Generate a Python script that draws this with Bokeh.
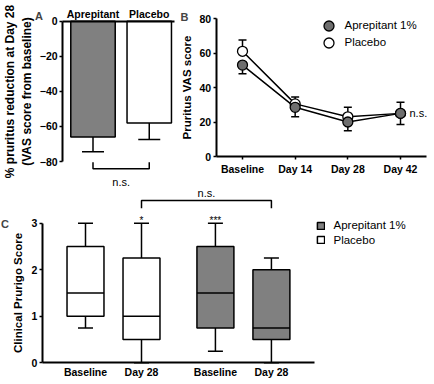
from bokeh.plotting import figure
from bokeh.models import (ColumnDataSource, Range1d, FixedTicker, LinearAxis,
                          SingleIntervalTicker, Legend, LegendItem, Label)
from bokeh.core.properties import value
from bokeh.embed import file_html
from bokeh.resources import INLINE

FONT = "Liberation Sans"
GREY = "#808080"
MGREY = "#6e6e6e"
W, H = 434, 384

# ---------------- data ----------------
# Panel A: % pruritus reduction at Day 28 (mean, SEM)
a_groups = ["Aprepitant", "Placebo"]
a_mean = [-66, -58]
a_sem = [8.5, 9.5]

# Panel B: pruritus VAS score over time (mean, SEM)
b_days = ["Baseline", "Day 14", "Day 28", "Day 42"]
b_aprep_mean = [53, 28.5, 20, 25]
b_aprep_sem = [5, 5.5, 5, 6.5]
b_placebo_mean = [61, 30.5, 23, 25]
b_placebo_sem = [6.5, 4, 5.5, 6.5]

# Panel C: clinical prurigo score (box plots)
c_groups = ["Placebo", "Aprepitant 1%"]
c_times = ["Baseline", "Day 28"]
c_low = [0.75, 0, 0.25, 0]
c_q1 = [1, 0.5, 0.75, 0.5]
c_median = [1.5, 1, 1.5, 0.75]
c_q3 = [2.5, 2.25, 2.5, 2]
c_high = [3, 3, 3, 2.25]
c_sig = ["", "*", "***", ""]


# ---------------- helpers: panel scales anchored on the canvas ----------------
def xr(v0, p0, v1, p1):
    s = (p1 - p0) / (v1 - v0)
    start = v0 - p0 / s
    return Range1d(start, start + W / s)


def yr(v0, p0, v1, p1):
    q0, q1 = H - p0, H - p1
    s = (q1 - q0) / (v1 - v0)
    start = v0 - q0 / s
    return Range1d(start, start + H / s)


p = figure(width=W, height=H, x_range=Range1d(0, 1), y_range=Range1d(0, 1),
           x_axis_type=None, y_axis_type=None, min_border=0, title=None,
           output_backend="svg", toolbar_location=None)
p.outline_line_color = None
p.extra_x_ranges = {"ax": xr(0.5, 92.5, 1.5, 148.75),
                    "bx": xr(0, 242, 3, 400),
                    "cx": xr(0, 85, 1, 141)}
p.extra_y_ranges = {"ay": yr(0, 20.7, -80, 161),
                    "by": yr(0, 156, 80, 18),
                    "cy": yr(0, 362.3, 3, 222.7)}

A = dict(x_range_name="ax", y_range_name="ay")
B = dict(x_range_name="bx", y_range_name="by")
C = dict(x_range_name="cx", y_range_name="cy")
LINE = dict(line_color="black", line_width=1.5)


def add_axis(side, rn, loc, bounds, ticker, label=None, overrides=None, tick_out=3,
             standoff=2, label_size="11.5px", label_standoff=5):
    ax = LinearAxis(fixed_location=loc, bounds=bounds, ticker=ticker, **rn)
    ax.axis_line_width = 2
    ax.axis_line_color = "black"
    ax.major_tick_line_width = 1.5
    ax.major_tick_line_color = "black" if tick_out > 0 else None
    ax.minor_tick_line_color = None
    ax.major_tick_in = 0
    ax.major_tick_out = tick_out
    ax.major_label_text_font = FONT
    ax.major_label_text_font_style = "bold"
    ax.major_label_text_font_size = "10.5px"
    ax.major_label_text_color = "black"
    ax.major_label_standoff = standoff
    if overrides:
        ax.major_label_overrides = overrides
    if label:
        ax.axis_label = label
        ax.axis_label_text_font = FONT
        ax.axis_label_text_font_style = "bold"
        ax.axis_label_text_font_size = label_size
        ax.axis_label_text_color = "black"
        ax.axis_label_standoff = label_standoff
    p.add_layout(ax, side)
    return ax


def letter(text, x, y):
    p.add_layout(Label(x=x, y=H - y, x_units="screen", y_units="screen", text=text,
                       text_font=FONT, text_font_style="bold", text_font_size="11px",
                       text_align="center", text_baseline="middle"))


def legend(renderer, label, x_left, y_bottom, gw, gh, standoff):
    p.add_layout(Legend(items=[LegendItem(label=label, renderers=[renderer])],
                        location=(x_left, H - y_bottom), glyph_width=gw, glyph_height=gh,
                        padding=0, margin=0, spacing=0, border_line_color=None,
                        background_fill_alpha=0, label_standoff=standoff, label_height=9,
                        label_text_font=FONT, label_text_font_size="11.5px",
                        label_text_color="black"))


def ns(x, y, rn, size="11px"):
    p.text(x=[x], y=[y], text=["n.s."], text_font=value(FONT), text_font_size=size,
           text_align="center", text_baseline="middle", text_color="black", **rn)


# ---------------- Panel A ----------------
a_pos = [i + 0.5 for i in range(len(a_groups))]
a_axis_x = -0.04
srcA = ColumnDataSource(dict(x=a_pos, mean=a_mean,
                             err=[m - s for m, s in zip(a_mean, a_sem)],
                             fill=[GREY, "white"]))
p.segment(x0="x", y0="mean", x1="x", y1="err", source=srcA, **LINE, **A)
p.scatter(x="x", y="err", source=srcA, marker="dash", size=22, **LINE, **A)
p.vbar(x="x", top=0, bottom="mean", width=0.79, source=srcA, fill_color="fill", **LINE, **A)
p.line(x=[a_pos[0], a_pos[0], a_pos[1], a_pos[1]], y=[-80.4, -84.2, -84.2, -80.4], **LINE, **A)
ns((a_pos[0] + a_pos[1]) / 2, -91.8, A)
add_axis("left", A, a_axis_x, (-80, 0), SingleIntervalTicker(interval=20, num_minor_ticks=0),
         label="% pruritus reduction at Day 28\n(VAS score from baseline)", label_size="12px",
         label_standoff=3)
add_axis("above", A, 0, (a_axis_x, a_pos[-1] + 0.44), FixedTicker(ticks=a_pos),
         overrides={x: g for x, g in zip(a_pos, a_groups)}, tick_out=0, standoff=1)
letter("A", 38.5, 15)

# ---------------- Panel B ----------------
b_pos = list(range(len(b_days)))
srcB = ColumnDataSource(dict(x=b_pos, am=b_aprep_mean, pm=b_placebo_mean,
                             alo=[m - s for m, s in zip(b_aprep_mean, b_aprep_sem)],
                             phi=[m + s for m, s in zip(b_placebo_mean, b_placebo_sem)]))
p.segment(x0="x", y0="pm", x1="x", y1="phi", source=srcB, **LINE, **B)
p.scatter(x="x", y="phi", source=srcB, marker="dash", size=8, **LINE, **B)
p.segment(x0="x", y0="am", x1="x", y1="alo", source=srcB, **LINE, **B)
p.scatter(x="x", y="alo", source=srcB, marker="dash", size=8, **LINE, **B)
p.line(x="x", y="pm", source=srcB, **LINE, **B)
p.line(x="x", y="am", source=srcB, **LINE, **B)
rP = p.scatter(x="x", y="pm", source=srcB, size=10, fill_color="white",
               line_color="black", line_width=1.3, **B)
rA = p.scatter(x="x", y="am", source=srcB, size=10, fill_color=MGREY,
               line_color="black", line_width=1.3, **B)
p.text(x=[b_pos[-1]], y=[b_aprep_mean[-1]], text=["n.s."], x_offset=9,
       text_font=value(FONT), text_font_size="11px", text_align="left",
       text_baseline="middle", text_color="black", **B)
add_axis("left", B, -0.5, (0, 80), SingleIntervalTicker(interval=20, num_minor_ticks=0),
         label="Pruritus VAS score", label_standoff=4)
add_axis("below", B, 0, (-0.5, b_pos[-1] + 0.5), FixedTicker(ticks=b_pos),
         overrides={x: d for x, d in zip(b_pos, b_days)}, tick_out=3, standoff=3)
legend(rA, "Aprepitant 1%", 315.5, 37.5, 25, 25, 4)
legend(rP, "Placebo", 315.5, 54.5, 25, 25, 4)
letter("B", 184, 16.5)

# ---------------- Panel C ----------------
gap = 0.32
box_w = 0.66
c_pos = [g * (len(c_times) + gap) + t for g in range(len(c_groups)) for t in range(len(c_times))]
c_labels = [t for g in c_groups for t in c_times]
fills = {"Placebo": "white", "Aprepitant 1%": GREY}
box_r = {}
for gi, grp in enumerate(c_groups):
    idx = [gi * len(c_times) + t for t in range(len(c_times))]
    src = ColumnDataSource(dict(
        x=[c_pos[i] for i in idx],
        xl=[c_pos[i] - box_w / 2 for i in idx],
        xr=[c_pos[i] + box_w / 2 for i in idx],
        lo=[c_low[i] for i in idx], q1=[c_q1[i] for i in idx],
        med=[c_median[i] for i in idx], q3=[c_q3[i] for i in idx],
        hi=[c_high[i] for i in idx]))
    p.segment(x0="x", y0="lo", x1="x", y1="q1", source=src, **LINE, **C)
    p.segment(x0="x", y0="q3", x1="x", y1="hi", source=src, **LINE, **C)
    p.scatter(x="x", y="lo", source=src, marker="dash", size=15, **LINE, **C)
    p.scatter(x="x", y="hi", source=src, marker="dash", size=15, **LINE, **C)
    box_r[grp] = p.vbar(x="x", width=box_w, bottom="q1", top="q3", source=src,
                        fill_color=fills[grp], **LINE, **C)
    p.segment(x0="xl", y0="med", x1="xr", y1="med", source=src, **LINE, **C)

sig_lift = 0.05
p.text(x=c_pos, y=[h + sig_lift for h in c_high], text=c_sig, text_font=value(FONT),
       text_font_size="10px", text_align="center", text_baseline="alphabetic",
       text_color="black", **C)
p.line(x=[c_pos[1], c_pos[1], c_pos[3], c_pos[3]], y=[3.32, 3.49, 3.49, 3.32], **LINE, **C)
ns((c_pos[1] + c_pos[3]) / 2, 3.64, C)
c_axis_x = -0.77
add_axis("left", C, c_axis_x, (0, 3), SingleIntervalTicker(interval=1, num_minor_ticks=0),
         label="Clinical Prurigo Score", label_standoff=5)
add_axis("below", C, 0, (c_axis_x, c_pos[-1] + 0.77), FixedTicker(ticks=c_pos),
         overrides={x: t for x, t in zip(c_pos, c_labels)}, tick_out=0, standoff=3)
legend(box_r["Aprepitant 1%"], "Aprepitant 1%", 315.5, 231.2, 9, 9, 9)
legend(box_r["Placebo"], "Placebo", 315.5, 245.5, 9, 9, 9)
letter("C", 4.5, 223)

open("out.html", "w").write(file_html(p, INLINE))
